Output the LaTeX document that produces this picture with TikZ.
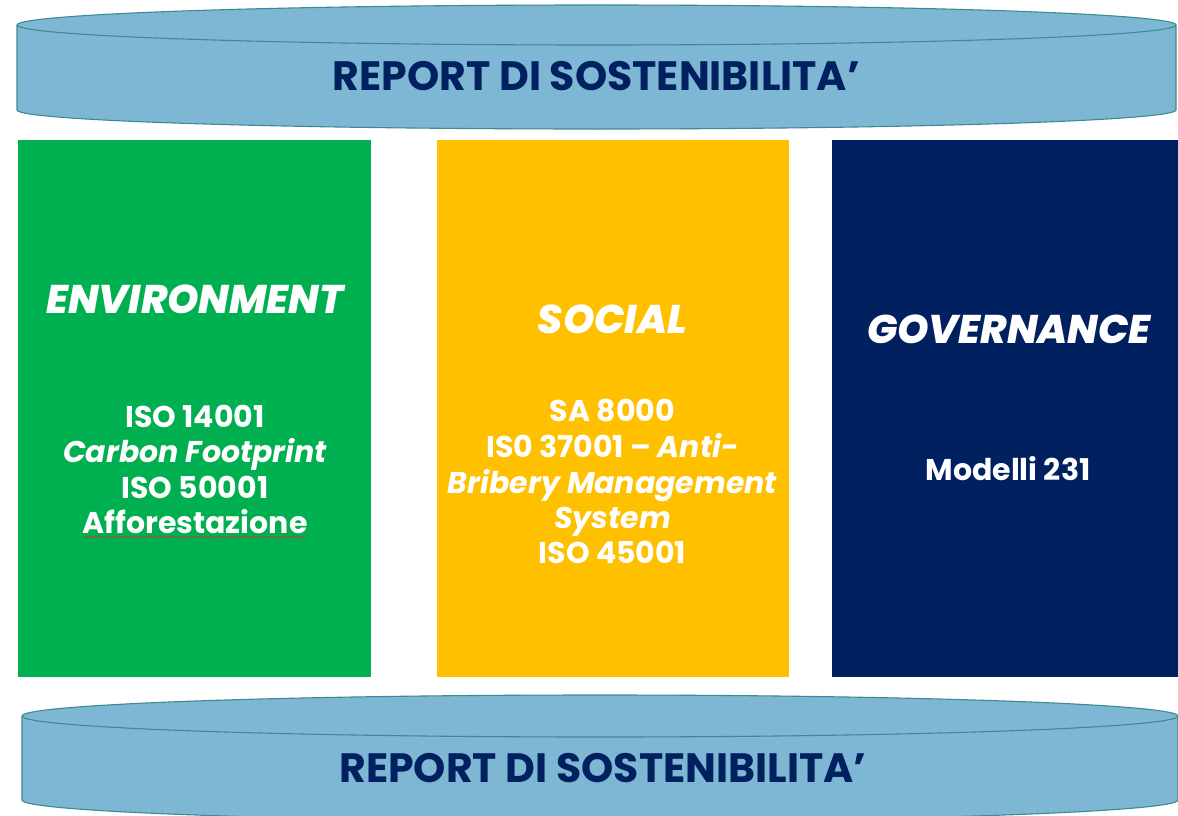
\documentclass[tikz,border=0pt]{standalone}
\usepackage{fontspec}
\setmainfont{Poppins}
\newfontfamily\headfont{Poppins ExtraBold Italic}
\usetikzlibrary{decorations.pathmorphing}
\definecolor{cylfill}{HTML}{7EB7D3}
\definecolor{cylline}{HTML}{3E8A94}
\definecolor{envgreen}{HTML}{00B050}
\definecolor{socyellow}{HTML}{FFC000}
\definecolor{govnavy}{HTML}{002060}
\definecolor{reporttext}{HTML}{002060}
\definecolor{spellred}{HTML}{C0392B}
\begin{document}
\begin{tikzpicture}[x=1pt,y=-1pt,
  cylbody/.style={fill=cylfill,draw=cylline,line width=1.1pt,line join=round},
  pillar/.style={draw=none,inner sep=0pt,minimum width=#1},
  reportlabel/.style={anchor=base,inner sep=0pt,text=reporttext,font=\fontsize{41}{48}\selectfont\bfseries},
  headlabel/.style={anchor=base,inner sep=0pt,text=white,font=\fontsize{40}{46}\headfont},
  bodylabel/.style={anchor=base,inner sep=0pt,text=white,font=\fontsize{30}{36}\selectfont\bfseries}]
\useasboundingbox (0,0) rectangle (1178,816);
\clip (0,0) rectangle (1178,816);
\fill[white] (0,0) rectangle (1178,816);

% top cylinder
\draw[cylbody] (17,25) -- (17,110) arc[start angle=180,end angle=0,x radius=579.5,y radius=19] -- (1176,25);
\draw[cylbody] (596.5,25) ellipse[x radius=579.5,y radius=20];
\node[reportlabel] (reporttop) at (596.5,90) {REPORT DI SOSTENIBILITA’};

% pillars
\node[pillar=353pt,fill=envgreen,minimum height=537pt] (env) at (194.5,408.5) {};
\node[pillar=352pt,fill=socyellow,minimum height=537pt] (soc) at (613,408.5) {};
\node[pillar=346pt,fill=govnavy,minimum height=537pt] (gov) at (1005,408.5) {};

% environment
\node[headlabel] (envhead) at (195,313) {ENVIRONMENT};
\node[bodylabel] (env1) at (195,427) {ISO 14001};
\node[bodylabel] (env2) at (195,462) {\itshape Carbon Footprint};
\node[bodylabel] (env3) at (195,498) {ISO 50001};
\node[bodylabel] (env4) at (195,533) {Afforestazione};
\draw[spellred,line width=0.6pt,decorate,decoration={snake,amplitude=0.8pt,segment length=3pt}]
  ([xshift=2pt,yshift=-4pt]env4.base west) -- ([xshift=-2pt,yshift=-4pt]env4.base east);

% social
\node[headlabel] (sochead) at (612.5,333) {SOCIAL};
\node[bodylabel] (soc1) at (612.5,421) {SA 8000};
\node[bodylabel] (soc2) at (612.5,457) {IS0 37001 – \itshape Anti-};
\node[bodylabel] (soc3) at (612.5,493) {\itshape Bribery Management};
\node[bodylabel] (soc4) at (612.5,528) {\itshape System};
\node[bodylabel] (soc5) at (612.5,563) {ISO 45001};

% governance
\node[headlabel] (govhead) at (1009,343) {GOVERNANCE};
\node[bodylabel] (gov1) at (1008,480) {Modelli 231};

% bottom cylinder
\draw[cylbody] (22,716) -- (22,800) arc[start angle=180,end angle=0,x radius=578,y radius=21] -- (1178,716);
\draw[cylbody] (600,716) ellipse[x radius=578,y radius=21];
\node[reportlabel] (reportbottom) at (603,782) {REPORT DI SOSTENIBILITA’};
\end{tikzpicture}
\end{document}
